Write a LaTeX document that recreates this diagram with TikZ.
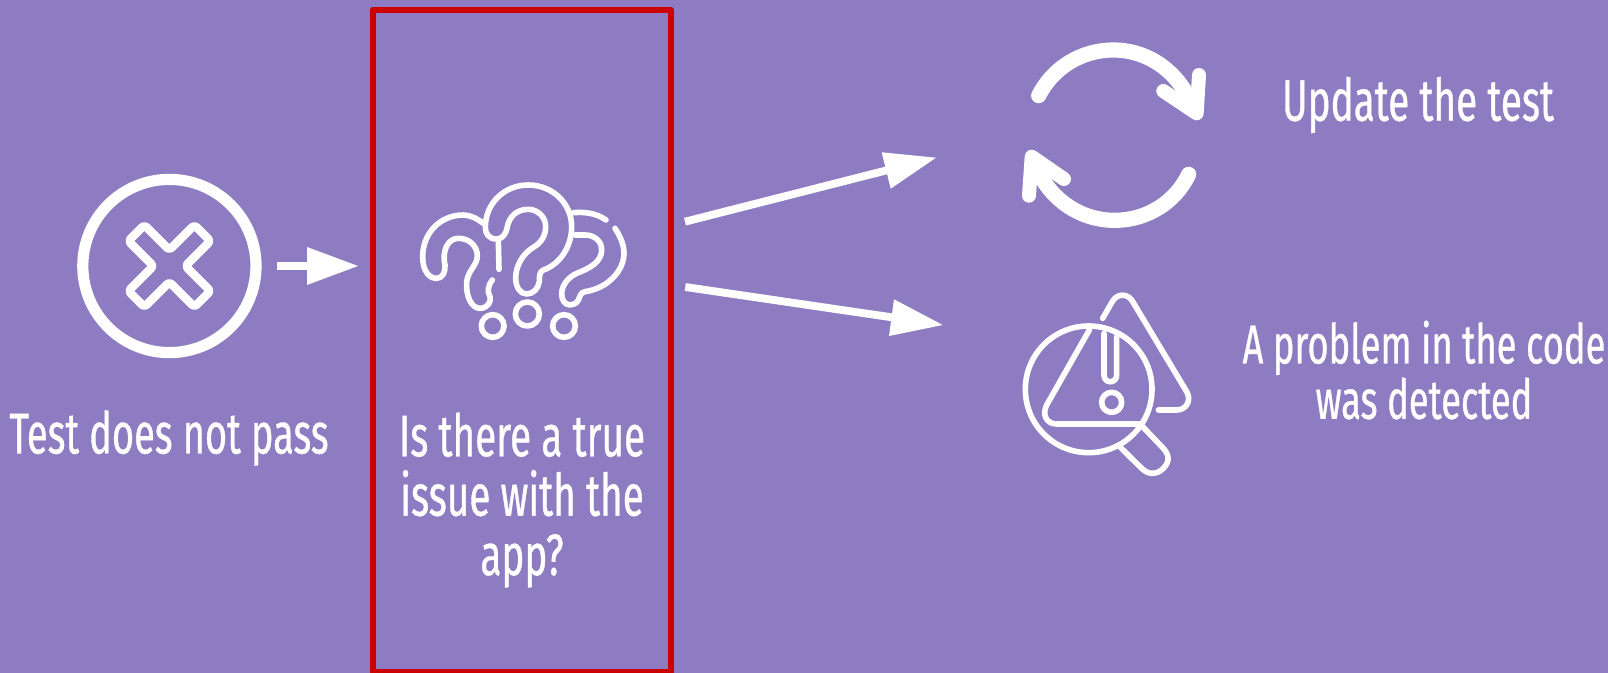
\documentclass[tikz,border=0pt]{standalone}
\usepackage{fontspec}
\setmainfont[FakeStretch=0.66,FakeBold=0.6]{Fira Sans}
\definecolor{bgp}{HTML}{8E7CC3}
\definecolor{redb}{HTML}{CC0000}
\tikzset{
  x=0.5pt,y=-0.5pt,
  lab/.style={text=white,font=\fontsize{29.3}{29.7}\selectfont,align=center,inner sep=0pt},
  labs/.style={lab,font=\fontsize{27.5}{27.7}\selectfont},
  ico/.style={draw=white,line width=2.8pt,line cap=round,line join=round},
  frameb/.style={draw=redb,line width=3pt,line join=round},
  conn/.style={draw=white,line width=3.9pt},
  headf/.style={fill=white,draw=none}
}
\begin{document}
\begin{tikzpicture}
\useasboundingbox (0,0) rectangle (1608,673);
\fill[bgp] (0,0) rectangle (1608,673);
\node[draw=none,inner sep=0pt,minimum width=148.6pt,minimum height=331pt] (frame) at (521.7,341) {};
\draw[frameb] (frame.north west) rectangle (frame.south east);
% labels
\node[lab,font=\fontsize{28.8}{29.7}\selectfont] (t1) at (169,438) {Test does not pass};
\node[lab] (t2) at (522,500) {Is there a true\\issue with the\\app?};
\node[lab] (t3) at (1418,105) {Update the test};
\node[labs] (t4) at (1424,370) {A problem in the code\\was detected};
% connectors
\coordinate (a1s) at (277,266); \coordinate (a1b) at (307,266); \coordinate (a1t) at (358,266);
\draw[conn] (a1s) -- (a1b);
\fill[headf] (307,247) -- (a1t) -- (307,285) -- cycle;
\coordinate (a2s) at (685,221.7); \coordinate (a2b) at (888,170); \coordinate (a2t) at (936,157.7);
\draw[conn] (a2s) -- (a2b);
\fill[headf] (881.7,152.3) -- (a2t) -- (890.7,188.7) -- cycle;
\coordinate (a3s) at (685.3,287); \coordinate (a3b) at (891.7,317.3); \coordinate (a3t) at (942.7,325);
\draw[conn] (a3s) -- (a3b);
\fill[headf] (894,299.3) -- (a3t) -- (889,336) -- cycle;
% X circle
\begin{scope}[shift={(169.4,266)}]
\draw[draw=white,line width=5.6pt] (0,0) circle[radius=86.6];
\draw[ico,line width=4.2pt,rounded corners=1.5pt] (0,-16) -- (25,-41) -- (41,-25) -- (16,0) -- (41,25) -- (25,41) -- (0,16) -- (-25,41) -- (-41,25) -- (-16,0) -- (-41,-25) -- (-25,-41) -- cycle;
\end{scope}
% question icon: zoom coordinates
\begin{scope}[shift={(400,170)},x=0.16667pt,y=-0.16667pt,ico]
\draw (290,207) .. controls (265,207) and (256,190) .. (256,172)
  .. controls (256,100) and (313,45) .. (385,45)
  .. controls (457,45) and (515,100) .. (515,170)
  .. controls (515,235) and (475,285) .. (430,300)
  .. controls (418,305) and (418,320) .. (418,335)
  .. controls (415,355) and (400,372) .. (380,372)
  .. controls (360,372) and (347,350) .. (347,325)
  .. controls (347,285) and (370,250) .. (400,232)
  .. controls (425,218) and (437,195) .. (437,170)
  .. controls (437,140) and (412,118) .. (385,118)
  .. controls (350,118) and (328,140) .. (322,170)
  .. controls (318,192) and (308,207) .. (290,207) -- cycle;
\draw (250,160) .. controls (230,145) and (210,135) .. (190,135)
  .. controls (120,135) and (68,190) .. (68,260)
  .. controls (68,300) and (85,325) .. (110,325)
  .. controls (128,325) and (137,305) .. (135,285)
  .. controls (125,240) and (145,205) .. (175,205)
  .. controls (210,205) and (232,230) .. (232,258)
  .. controls (232,285) and (205,300) .. (200,335)
  .. controls (197,380) and (215,415) .. (240,415)
  .. controls (262,415) and (275,395) .. (270,380)
  .. controls (262,365) and (262,350) .. (277,330);
\draw (295,212) -- (297,298);
\draw (520,128) .. controls (555,125) and (590,130) .. (618,150);
\draw (645,175) .. controls (665,205) and (672,230) .. (672,250)
  .. controls (672,300) and (625,355) .. (555,365)
  .. controls (540,368) and (540,380) .. (535,390)
  .. controls (530,400) and (520,405) .. (510,405)
  .. controls (495,405) and (485,390) .. (485,372)
  .. controls (485,345) and (505,322) .. (530,310)
  .. controls (570,295) and (605,275) .. (605,240)
  .. controls (605,210) and (580,195) .. (555,195) -- (525,195);
\draw (382,432) circle[radius=36];
\draw (278,468) circle[radius=34];
\draw (492,468) circle[radius=34];
\end{scope}
% sync icon
\begin{scope}[shift={(1000,30)},x=0.16667pt,y=-0.16667pt,ico,line width=7.6pt]
\draw (116,197) .. controls (159,112) and (245.7,60) .. (340,60) .. controls (445,60) and (535,125) .. (578,228);
\draw[line width=7pt] (597,135) -- (590,250) -- (490,183);
\draw (566,433) .. controls (525,519) and (438.3,571) .. (344,571) .. controls (238,571) and (145,505) .. (106,404);
\draw[line width=7pt] (87,497) -- (95,380) -- (192,447);
\end{scope}
% warning icon
\begin{scope}[shift={(1000,280)},x=0.16667pt,y=-0.16667pt,ico]
\draw (266,328) circle[radius=190];
\draw (308,115) -- (335,68) .. controls (350,38) and (385,38) .. (400,68) -- (560,335) .. controls (575,360) and (560,390) .. (530,390) -- (475,390);
\draw (268,150) -- (140,375) .. controls (125,405) and (140,432) .. (170,432) -- (420,432);
\draw (312,160) -- (312,285) .. controls (312,312) and (350,312) .. (350,285) -- (350,170);
\draw (335,367) circle[radius=30];
\draw (362,503) -- (425,565) .. controls (445,585) and (470,585) .. (490,565) .. controls (510,545) and (508,525) .. (490,505) -- (428,440);
\end{scope}
\end{tikzpicture}
\end{document}
